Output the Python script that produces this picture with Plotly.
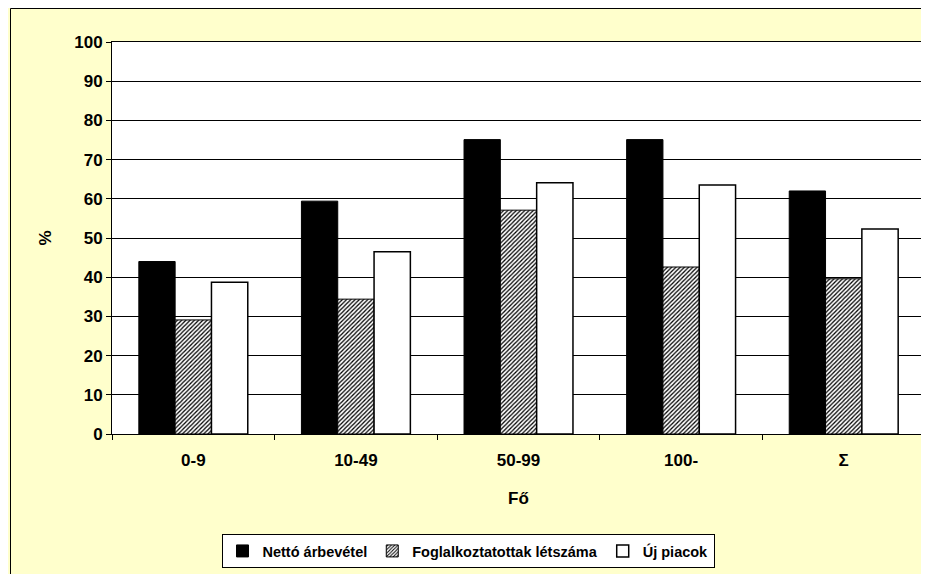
import plotly.graph_objects as go

categories = ["0-9", "10-49", "50-99", "100-", "Σ"]
netto = [44.0, 59.4, 75.1, 75.1, 62.0]
foglalkoztatottak = [29.1, 34.4, 57.1, 42.6, 39.6]
uj_piacok = [38.7, 46.5, 64.1, 63.5, 52.3]
y_ticks = list(range(0, 101, 10))

FONT = "Liberation Sans, Arial, sans-serif"

# page body has an 8px margin, so the figure is drawn at (8, 8) in the window
W, H = 921, 566
L, T, R, B = 104, 34, 4, 140
PW, PH = W - L - R, H - T - B

fig = go.Figure()
fig.add_trace(go.Bar(
    x=categories, y=netto, name="Nettó árbevétel",
    marker=dict(color="black", line=dict(color="black", width=1)),
))
fig.add_trace(go.Bar(
    x=categories, y=foglalkoztatottak, name="Foglalkoztatottak létszáma",
    marker=dict(color="white", line=dict(color="black", width=1),
                pattern=dict(shape="/", fgcolor="black", bgcolor="white",
                             size=3, solidity=0.42)),
))
fig.add_trace(go.Bar(
    x=categories, y=uj_piacok, name="Új piacok",
    marker=dict(color="white", line=dict(color="black", width=1.5)),
))

fig.update_layout(
    template="none",
    width=W, height=H,
    margin=dict(l=L, r=R, t=T, b=B, autoexpand=False),
    paper_bgcolor="#FFFFCC",
    plot_bgcolor="white",
    barmode="group",
    bargap=0.33,
    bargroupgap=0,
    font=dict(family=FONT, size=17, color="black"),
    showlegend=True,
    legend=dict(
        orientation="h",
        x=(460 - L) / PW, xanchor="center",
        y=(PH + T - 526) / PH, yanchor="top",
        bgcolor="white", bordercolor="black", borderwidth=1,
        font=dict(family=FONT, size=14.5, color="black", weight="bold"),
        itemwidth=30,
        traceorder="normal",
    ),
    xaxis=dict(
        type="category",
        automargin=False,
        showline=True, linecolor="black", linewidth=1, mirror=True,
        ticks="outside", ticklen=5, tickcolor="black", tickson="boundaries",
        ticklabelstandoff=11,
        tickfont=dict(family=FONT, size=17, weight="bold"),
        title=dict(text="Fő", font=dict(family=FONT, size=17, weight="bold"), standoff=22),
        showgrid=False,
    ),
    yaxis=dict(
        range=[0, 100],
        automargin=False,
        tickvals=y_ticks,
        showline=True, linecolor="black", linewidth=1, mirror=True,
        ticks="outside", ticklen=5, tickcolor="black",
        tickfont=dict(family=FONT, size=17, weight="bold"),
        showgrid=True, gridcolor="black", gridwidth=1,
        title=dict(text="%", font=dict(family=FONT, size=17, weight="bold"), standoff=18),
        zeroline=False,
    ),
    shapes=[dict(
        type="rect", xref="paper", yref="paper",
        x0=(2.5 - L) / PW, x1=(W + 20 - L) / PW,
        y0=-0.5, y1=(PH + T - 0.5) / PH,
        line=dict(color="black", width=1), fillcolor="rgba(0,0,0,0)", layer="below",
    )],
)

fig.write_html("out.html")
